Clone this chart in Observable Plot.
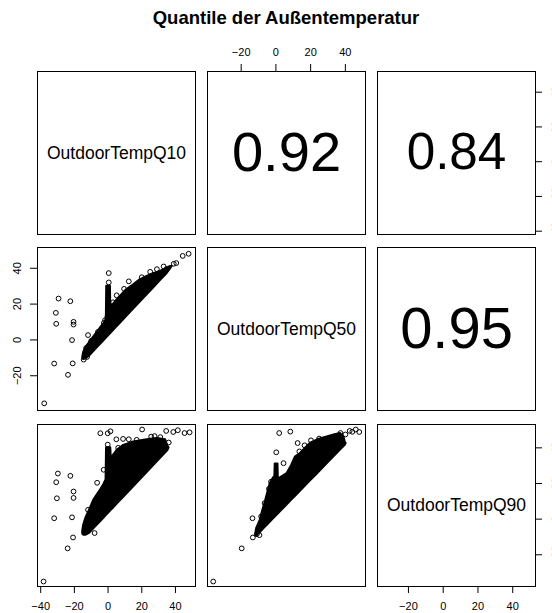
<!DOCTYPE html>
<html><head><meta charset="utf-8">
<script src="https://cdn.jsdelivr.net/npm/d3@7"></script>
<script src="https://cdn.jsdelivr.net/npm/@observablehq/plot@0.6"></script>
<style>
html,body{margin:0;padding:0;background:white;}
#chart{position:relative;width:552px;height:613px;overflow:hidden;font-family:"Liberation Sans",Arial,Helvetica,sans-serif;}
#title{position:absolute;left:0;width:572px;top:7px;line-height:22px;text-align:center;font-weight:bold;font-size:18.5px;color:black;}
.panel{position:absolute;line-height:0;}
.panel svg{max-width:none !important;}
</style></head>
<body>
<div id="chart"><div id="title">Quantile der Außentemperatur</div></div>
<script>
// ---- data ----
const variables = ["OutdoorTempQ10", "OutdoorTempQ50", "OutdoorTempQ90"];
const ticksQ10 = [-40, -20, 0, 20, 40];
const ticksQ50 = [-20, 0, 20, 40];
const ticksQ90 = [-20, 0, 20, 40];
const corQ10Q50 = 0.92;
const corQ10Q90 = 0.84;
const corQ50Q90 = 0.95;

// dense cloud outlines [x, lower y, upper y]
const bandQ10Q50 = [
  [-15,-10.5,-9.5],[-14.5,-11,-7],[-13,-10.5,-4],[-11,-9,-1.5],[-9,-7,1],[-7,-5,3.5],
  [-5,-3,6],[-3,-1,8.5],[-1.5,0.5,10],[-1,1,14],[-0.8,1.2,30],[1.4,3.4,30],[1.6,3.6,18],
  [2.4,4.4,19],[5,7,22],[7.3,9.3,24.3],[11,13,28],[15.2,17.2,30.8],[19,21,33.5],
  [23.2,25.2,35.4],[27,29,37],[31.1,33.1,38.2],[35.1,37.1,40.1],[37,39.5,41],[38,41,41]
];
const pointsQ10Q50 = [
  [-37.9,-35.4],[-29.4,23.1],[-22.4,21.6],[-31,15.1],[-30.8,9],[-20.5,10.1],[-20.5,8.6],
  [-21.4,-0.1],[-32,-13.2],[-21,-13.1],[-23.8,-19.5],[-11.9,2.7],[0.4,37.3],[0.4,32.1],
  [12.3,32.7],[5.1,24.9],[34.7,39.6],[39,42.5],[40.5,42.9],[44.3,46.9],[47.8,48.1],
  [33,41],[29,39.5],[25,38],[20,35],[9.5,28.5],[3,21],[-14.5,-11],[-12.5,-9.5],
  [-13,-4.5],[-10,-0.5],[-6,4.5],[-2.5,9.5],[-1.8,11]
];
const bandQ10Q90 = [
  [-15,-8.5,-6.5],[-14.5,-9,-3.5],[-13,-9,1],[-11,-8,5],[-8.6,-5.6,10.4],[-6.5,-3.5,13.5],
  [-4.6,-1.6,16.1],[-2.5,0.5,19.5],[-1.2,1.8,22],[-0.9,2.1,40],[1.6,4.6,40],[1.9,4.9,34],
  [3,6,35.5],[5.4,8.4,38.6],[9.3,12.3,41.4],[15.2,18.2,43.3],[23.2,26.2,44.6],
  [29.2,32.2,45.2],[34.1,37.1,44.6],[35.5,38.5,41],[36.2,40,40]
];
const pointsQ10Q90 = [
  [-29.8,25.6],[-22.4,24.3],[-30.8,20.7],[-20.5,15.5],[-20.5,11.9],[-30.4,11.7],[-32,0.5],
  [-21.4,1],[-20.8,-10.3],[-24,-16.4],[-38.3,-35],[-4.6,48.2],[-0.2,48.2],[1.4,49.3],
  [4.9,44.8],[8.9,45],[12.3,44.8],[20.2,50.3],[25.6,46.3],[27.6,46.6],[34.5,49.5],
  [38.7,48.9],[41.4,49.9],[45.4,48.3],[48.4,48.7],[-0.2,41.8],[-0.2,37.6],[-2.6,27.7],
  [-6.5,20.4],[-11.9,5.2],[-14.1,-6.9],[-8,-7.8],[31,46],[17,44.5],[6,40],[36,43]
];
const bandQ50Q90 = [
  [-11.5,-9.5,-7.5],[-11,-9.5,-5],[-9.1,-7.6,-0.8],[-7.5,-6,5],[-6,-4.5,10],[-4.5,-3,15.5],
  [-3.3,-1.8,19.8],[-1.5,0,23],[-0.6,0.9,24],[-0.4,1.1,31],[1.2,2.7,31],[1.4,2.9,22.5],
  [3,4.5,23.5],[6.4,7.9,25.5],[9,10.5,30],[11.2,12.7,34.8],[14,15.5,36.7],[19.8,21.3,42.5],
  [24,25.5,44.5],[29.5,31,46.1],[34,35.5,47.3],[37.2,38.7,48],[39.1,40.6,46.5],[40,41.5,43],
  [40.5,42.5,42.5]
];
const pointsQ50Q90 = [
  [-36.1,-35],[-19.7,-16.4],[-13.3,-10.3],[-13.5,0.5],[1.9,48.3],[8.3,49.1],[0.2,37.5],
  [4.4,31.4],[12.5,42.7],[13.5,38],[16.5,41.4],[20.2,44.2],[24.9,45.2],[28.5,44.6],
  [37.2,48.3],[42.5,49.5],[46,50.3],[48,48.9],[-2.8,21],[-4,17],[-6.5,9],[-8.5,1.5],
  [-11,-8.5],[-9.5,-9],[44,49],[40,47.5]
];

// ---- layout ----
const chart = document.getElementById("chart");
const colX = [37, 207, 377], colW = 158;
const rowY = [71, 247, 424], rowH = [163, 163, 162];
const domains = [[-41.9, 51.9], [-39.4, 51.6], [-37.8, 53.1]];
const tickSets = [ticksQ10, ticksQ50, ticksQ90];
const fmt = d => d < 0 ? "\u2212" + Math.abs(d) : String(d);
const FONT = "'Liberation Sans', Arial, Helvetica, sans-serif";
const TL = 7; // tick length

function axisMarks(side, T, fw, fh) {
  const m = [];
  if (side === "bottom") {
    m.push(Plot.tickX(T, {x: d => d, stroke: "black", insetTop: fh, insetBottom: -TL}));
    m.push(Plot.text(T, {x: d => d, frameAnchor: "bottom", dy: 19.5, text: fmt, lineAnchor: "middle", fontSize: 11, fill: "black"}));
  } else if (side === "top") {
    m.push(Plot.tickX(T, {x: d => d, stroke: "black", insetBottom: fh, insetTop: -TL}));
    m.push(Plot.text(T, {x: d => d, frameAnchor: "top", dy: -19.5, text: fmt, lineAnchor: "middle", fontSize: 11, fill: "black"}));
  } else if (side === "left") {
    m.push(Plot.tickY(T, {y: d => d, stroke: "black", insetRight: fw, insetLeft: -TL}));
    m.push(Plot.text(T, {y: d => d, frameAnchor: "left", dx: -20.5, rotate: -90, text: fmt, lineAnchor: "middle", textAnchor: "middle", fontSize: 11, fill: "black"}));
  } else {
    m.push(Plot.tickY(T, {y: d => d, stroke: "black", insetLeft: fw, insetRight: -TL}));
    m.push(Plot.text(T, {y: d => d, frameAnchor: "right", dx: 20.5, rotate: -90, text: fmt, lineAnchor: "middle", textAnchor: "middle", fontSize: 11, fill: "black"}));
  }
  return m;
}

function makePanel(ci, ri, marks, axes) {
  const M = 40;
  const fw = colW, fh = rowH[ri];
  const am = [];
  for (const a of axes) am.push(...axisMarks(a, (a === "bottom" || a === "top") ? tickSets[ci] : tickSets[ri], fw, fh));
  const svg = Plot.plot({
    width: fw + 2 * M, height: fh + 2 * M, margin: M,
    x: {domain: domains[ci], axis: null},
    y: {domain: domains[ri], axis: null},
    style: {background: "transparent", overflow: "visible", fontFamily: FONT, color: "black", maxWidth: "none"},
    marks: [...marks, ...am, Plot.frame({stroke: "black", strokeWidth: 1})]
  });
  const div = document.createElement("div");
  div.className = "panel";
  div.style.left = (colX[ci] - M) + "px";
  div.style.top = (rowY[ri] - M) + "px";
  div.style.width = (fw + 2 * M) + "px";
  div.appendChild(svg);
  chart.appendChild(div);
}

const diag = name => [Plot.text([name], {frameAnchor: "middle", text: d => d, fontSize: 17.5, fill: "black"})];
const corr = r => [Plot.text([r], {frameAnchor: "middle", text: d => d.toFixed(2), fontSize: 61 * r, fill: "black"})];
const scatter = (band, pts) => [
  Plot.areaY(band, {x: d => d[0], y1: d => d[1], y2: d => d[2], fill: "black", stroke: "black", strokeWidth: 2}),
  Plot.dot(pts, {x: d => d[0], y: d => d[1], r: 2.4, stroke: "black", strokeWidth: 1, fill: "none"})
];

makePanel(0, 0, diag(variables[0]), []);
makePanel(1, 0, corr(corQ10Q50), ["top"]);
makePanel(2, 0, corr(corQ10Q90), ["right"]);
makePanel(0, 1, scatter(bandQ10Q50, pointsQ10Q50), ["left"]);
makePanel(1, 1, diag(variables[1]), []);
makePanel(2, 1, corr(corQ50Q90), []);
makePanel(0, 2, scatter(bandQ10Q90, pointsQ10Q90), ["bottom"]);
makePanel(1, 2, scatter(bandQ50Q90, pointsQ50Q90), []);
makePanel(2, 2, diag(variables[2]), ["bottom", "right"]);
</script>
</body></html>
